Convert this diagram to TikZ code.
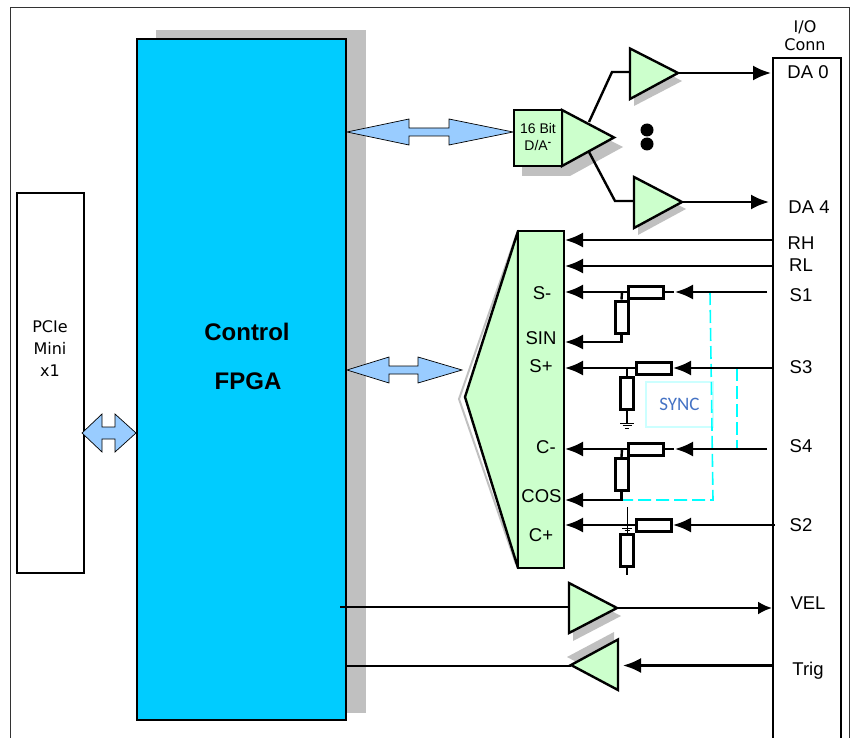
\documentclass[tikz,border=0pt]{standalone}
\usepackage{fontspec}
\setmainfont{Liberation Sans}
\newfontfamily\condfont{DejaVu Sans}
\newfontfamily\syncfont{Carlito}
\usepackage{xcolor}
\usetikzlibrary{arrows.meta,calc}
\definecolor{ampgreen}{HTML}{CCFFCC}
\definecolor{fpgablue}{HTML}{00CCFF}
\definecolor{busblue}{HTML}{99CCFF}
\definecolor{shadowgray}{HTML}{C0C0C0}
\definecolor{syncblue}{HTML}{4472C4}
\definecolor{synccyan}{HTML}{00FFFF}
\definecolor{syncpale}{HTML}{CCFFFF}
\tikzset{
  bigbox/.style={draw,line width=2.6pt,inner sep=0pt,outer sep=0pt,anchor=north west},
  amp/.style={draw,fill=ampgreen,line width=2.4pt,line join=miter},
  shade/.style={fill=shadowgray},
  bus/.style={draw=black,fill=busblue,line width=0.7pt},
  wire/.style={line width=2.4pt},
  sig/.style={wire,-{Latex[length=18pt,width=15pt]}},
  resh/.style={draw,fill=white,line width=3pt,minimum width=35pt,minimum height=12pt,inner sep=0pt},
  resv/.style={draw,fill=white,line width=3pt,minimum width=13pt,minimum height=32pt,inner sep=0pt},
  lbl/.style={inner sep=0pt,font=\fontsize{18.5}{20}\selectfont},
  synchline/.style={synccyan,line width=1.6pt,dash pattern=on 13pt off 5pt},
}
\begin{document}
\begin{tikzpicture}[x=1pt,y=-1pt]
        \useasboundingbox (0,0) rectangle (851,738);
        % Outer frame, open at the bottom
        \draw[line width=1pt,black!80] (10.5,738) -- (10.5,8) -- (849,8) -- (849,738);

        % Boxes
        \fill[shade] (156,30) rectangle (366,713);
        \node[bigbox,fill=fpgablue,minimum width=209pt,minimum height=681pt] (fpga) at (137,39) {};
        \node[font=\bfseries\fontsize{24}{26}\selectfont,inner sep=0pt] (fpgatop) at (247,332) {Control};
        \node[font=\bfseries\fontsize{24}{26}\selectfont,inner sep=0pt] (fpgabot) at (248,381) {FPGA};
        \node[bigbox,fill=white,minimum width=67pt,minimum height=380pt] (pcie) at (17,193) {};
        \node[align=center,inner sep=0pt,font=\condfont\fontsize{16}{22}\selectfont] (pcietext) at (50,349) {PCIe\\Mini\\x1};
        \path[draw,line width=2.6pt] (773,745) |- (841,58) -- (841,745);
        \node[align=center,inner sep=0pt,font=\condfont\fontsize{16}{18}\selectfont] (conntext) at (805,36) {I/O\\Conn};

        % Bus arrows
        \draw[bus] (82,433) -- (102,414) -- (102,427) -- (115,427) -- (115,414) -- (136,433)
          -- (115,452) -- (115,439) -- (102,439) -- (102,452) -- cycle;
        \draw[bus] (347,132) -- (409,119) -- (409,128) -- (449,128) -- (449,119) -- (513,132)
          -- (449,145) -- (449,136) -- (409,136) -- (409,145) -- cycle;
        \draw[bus] (347,370) -- (389,357) -- (389,366) -- (418,366) -- (418,357) -- (462,370)
          -- (418,383) -- (418,374) -- (389,374) -- (389,383) -- cycle;

        % Points on the connector
        \coordinate (da0pin) at (771,73);
        \coordinate (da4pin) at (769,202);
        \coordinate (rhpin) at (773,240);
        \coordinate (rlpin) at (773,266);
        \coordinate (s1pin) at (767,292);
        \coordinate (s3pin) at (773,368);
        \coordinate (s4pin) at (767,449);
        \coordinate (s2pin) at (775,525);
        \coordinate (velpin) at (772,608);
        \coordinate (trigpin) at (773,665.5);

        % D/A converter
        \fill[shade] (522,120) rectangle (570,176);
        \fill[shade] (570,120) -- (623,147) -- (570,176) -- cycle;
        \coordinate (datip) at (614,137.5);
        \draw[wire] (589,122) -- (612,72) -- (630,72);
        \draw[wire] (589,152) -- (615,201) -- (634,201);
        \draw[amp] (562,110) -- (datip) -- (562,166) -- cycle;
        \node[bigbox,fill=ampgreen,line width=2.4pt,minimum width=48pt,minimum height=56pt] (dac) at (514,110) {};
        \node[align=center,inner sep=0pt,font=\fontsize{14}{17}\selectfont] (dactext) at (538,137) {16 Bit\\D/A\textsuperscript{\bfseries -}};

        % Output amplifiers
        \fill[shade] (634,56) -- (682,81) -- (634,106) -- cycle;
        \draw[amp] (630,48.5) -- (678,73) coordinate (amptop) -- (630,99) -- cycle;
        \fill[shade] (638,184) -- (686,209) -- (638,235) -- cycle;
        \draw[amp] (634,177) -- (682,202) coordinate (ampbot) -- (634,228) -- cycle;
        \draw[sig] (amptop) -- (da0pin);
        \draw[sig] (ampbot) -- (da4pin);
        \fill (647,130) circle (6.5);
        \fill (647,144) circle (6.5);

        % Resolver block
        \draw[shadowgray,line width=2pt] (516,236) -- (459,399) -- (516,564);
        \draw[amp,line join=round] (518,231) -- (465,397) -- (518,568) -- cycle;
        \node[bigbox,fill=ampgreen,line width=2.4pt,minimum width=46pt,minimum height=337pt] (adc) at (518,231) {};

        % Sync box and its lines
        \node[draw=syncpale,line width=1.5pt,minimum width=67pt,minimum height=45pt,inner sep=0pt,
          text=syncblue,font=\syncfont\fontsize{19}{20}\selectfont] (sync) at (679.5,404.5) {SYNC};
        \draw[synchline] (710,292) -- (713,500) -- (621,500);
        \draw[synchline] (737,368) -- (737,449);

        % Points on the resolver block
        \coordinate (rhin) at (565,240);
        \coordinate (rlin) at (565,266);
        \coordinate (sminus) at (565,292);
        \coordinate (sin) at (565,342);
        \coordinate (splus) at (565,368);
        \coordinate (cminus) at (565,449);
        \coordinate (cos) at (565,500);
        \coordinate (cplus) at (565,525);

        % Plain inputs
        \draw[sig] (rhpin) -- (rhin);
        \draw[sig] (rlpin) -- (rlin);

        % S1 input
        \node[resh] (r1) at (646,292) {};
        \node[resv] (r2) at (621.5,317) {};
        \draw[sig] (s1pin) -- (675,292);
        \draw[wire] (674,292) -- (r1.east);
        \draw[sig] (r1.west) -- (sminus);
        \draw[wire] (622,292) -- (r2.north);
        \draw[sig] (r2.south) |- (sin);

        % S3 input
        \node[resh] (r3) at (654,368) {};
        \node[resv] (r4) at (627,393) {};
        \draw[sig] (s3pin) -- (r3.east);
        \draw[sig] (r3.west) -- (splus);
        \draw[wire] (627,368) -- (r4.north);
        \coordinate (gnd) at (627,423);
        \draw[wire] (r4.south) -- (gnd);
        \draw[line width=1pt] ($(gnd)+(-7,0)$) -- ($(gnd)+(7,0)$);
        \draw[line width=1pt] ($(gnd)+(-4.5,2.5)$) -- ($(gnd)+(4.5,2.5)$);
        \draw[line width=1pt] ($(gnd)+(-2,5)$) -- ($(gnd)+(2,5)$);

        % S4 input
        \node[resh] (r5) at (646,449) {};
        \node[resv] (r6) at (621.5,474.5) {};
        \draw[sig] (s4pin) -- (675,449);
        \draw[wire] (674,449) -- (r5.east);
        \draw[sig] (r5.west) -- (cminus);
        \draw[wire] (622,449) -- (r6.north);
        \draw[sig] (r6.south) |- (cos);

        % S2 input
        \node[resh] (r7) at (654,525) {};
        \node[resv] (r8) at (627,550) {};
        \draw[sig] (s2pin) -- (r7.east);
        \draw[sig] (r7.west) -- (cplus);
        \draw[line width=1pt] (627,507) -- (r8.north);
        \draw[line width=1pt] (622,528) -- (632,528);
        \draw[line width=1pt] (624.5,530.5) -- (629.5,530.5);
        \draw[wire] (r8.south) -- (627,575);

        % VEL and Trig
        \fill[shade] (573,591) -- (621,616) -- (573,641) -- cycle;
        \draw[wire] (340,607) -- (569,607);
        \draw[amp] (569,583) -- (617,608) coordinate (ampvel) -- (569,633) -- cycle;
        \draw[wire,-{Latex[length=14pt,width=13pt]}] (ampvel) -- (velpin);
        \fill[shade] (614,632) -- (567,657) -- (614,682) -- cycle;
        \draw[line width=2pt] (fpga.east |- trigpin) -- (571,665.5);
        \draw[amp] (618,639.5) -- (571,665) -- (618,690) -- cycle;
        \draw[sig] (trigpin) -- (623,665.5);

        % Connector labels
        \node[lbl] (da0) at (808,72) {DA 0};
        \node[lbl] (da4) at (809,207) {DA 4};
        \node[lbl] (rh) at (801,243) {RH};
        \node[lbl] (rl) at (801,265) {RL};
        \node[lbl] (s1) at (801,295) {S1};
        \node[lbl] (s3) at (801,367) {S3};
        \node[lbl] (s4) at (801,446) {S4};
        \node[lbl] (s2) at (801,525) {S2};
        \node[lbl] (vel) at (808,603) {VEL};
        \node[lbl] (trig) at (808,671) {Trig};

        % Resolver labels
        \node[lbl] (lsminus) at (542,293) {S-};
        \node[lbl] (lsin) at (541,338) {SIN};
        \node[lbl] (lsplus) at (541,366) {S+};
        \node[lbl] (lcminus) at (546,447) {C-};
        \node[lbl] (lcos) at (541.5,496) {COS};
        \node[lbl] (lcplus) at (541,535) {C+};
      \end{tikzpicture}
\end{document}
